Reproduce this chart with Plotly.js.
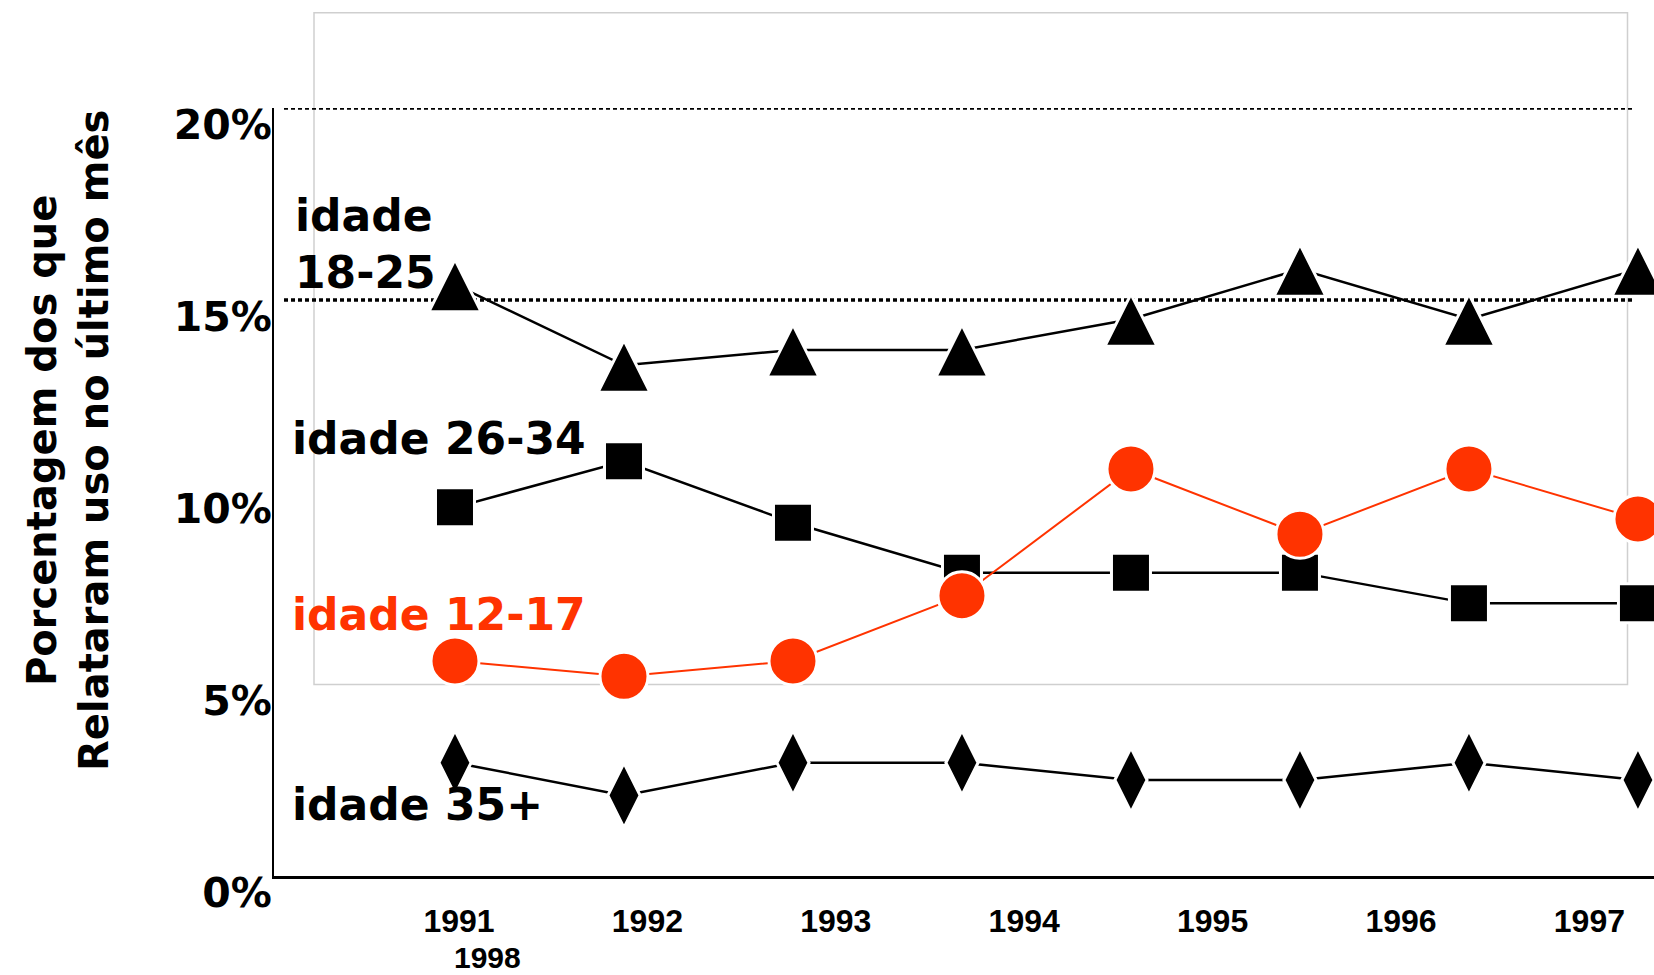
<!DOCTYPE html>
<html><head><meta charset="utf-8">
<script src="https://cdn.plot.ly/plotly-3.0.1.min.js"></script>
<style>html,body{margin:0;padding:0;background:#fff}#chart{width:1654px;height:975px}</style>
</head><body><div id="chart"></div>
<script>
// ---- data ----
const years = [1991, 1992, 1993, 1994, 1995, 1996, 1997, 1998];
const age18_25 = [15.4, 13.3, 13.7, 13.7, 14.5, 15.8, 14.5, 15.8];
const age26_34 = [9.6, 10.8, 9.2, 7.9, 7.9, 7.9, 7.1, 7.1];
const age12_17 = [5.6, 5.2, 5.6, 7.3, 10.6, 8.9, 10.6, 9.3];
const age35plus = [2.95, 2.1, 2.95, 2.95, 2.5, 2.5, 2.95, 2.5];
const seriesLabels = ['idade<br>18-25', 'idade 26-34', 'idade 12-17', 'idade 35+'];
const xTickLabels = ['1991', '1992', '1993', '1994', '1995', '1996', '1997'];
const extraXLabel = '1998';
const yTickVals = [0, 5, 10, 15, 20];
const yTickText = ['0%', '5%', '10%', '15%', '20%'];
const refLines = [15, 20];
const yTitle = 'Porcentagem dos que<br>Relataram uso no último mês';

// ---- style ----
const RED = '#ff3300';
const BIG = {family: 'DejaVu Sans', size: 44, color: '#000', weight: 'bold'};
const plotH = 768, pxPerUnit = plotH / 20, triLift = 25;

function lineTrace(y, color, w) {
  return {x: years, y: y, mode: 'lines', line: {color: color, width: w}, hoverinfo: 'skip', cliponaxis: false};
}
function markerTrace(y, sym, size, color, yaxis) {
  return {x: years, y: y, mode: 'markers', yaxis: yaxis || 'y', cliponaxis: false, hoverinfo: 'skip',
    marker: {symbol: sym, size: size, color: color, line: {color: '#fff', width: 3}}};
}

const traces = [
  lineTrace(age18_25, '#000', 2.5),
  lineTrace(age26_34, '#000', 2.5),
  lineTrace(age35plus, '#000', 2.5),
  lineTrace(age12_17, RED, 2),
  markerTrace(age18_25, 'arrow-up', 52, '#000', 'y2'),
  markerTrace(age26_34, 'square', 39, '#000'),
  markerTrace(age35plus, 'diamond-tall', 46, '#000'),
  markerTrace(age12_17, 'circle', 48, RED),
  {x: [], y: [], xaxis: 'x2', mode: 'markers', hoverinfo: 'skip'}
];

const L = 274, W = 1380;
const px2paperX = p => (p - L) / W;
const px2paperY = p => (876 - p) / plotH;

const layout = {
  width: 1654, height: 975,
  margin: {l: L, r: 0, t: 108, b: 99},
  paper_bgcolor: '#fff', plot_bgcolor: 'rgba(0,0,0,0)',
  showlegend: false,
  font: {family: 'DejaVu Sans', color: '#000'},
  xaxis: {range: [1989.929, 1998.095], showgrid: false, zeroline: false, showticklabels: false,
    showline: true, linecolor: '#000', linewidth: 2.5, ticks: '', fixedrange: true},
  xaxis2: {overlaying: 'x', anchor: 'y', side: 'bottom', range: [-0.982, 6.343],
    tickvals: xTickLabels.map((_, i) => i), ticktext: xTickLabels,
    showgrid: false, zeroline: false, showline: false, ticks: 'outside', ticklen: 17, tickcolor: 'rgba(0,0,0,0)',
    tickfont: {family: 'Liberation Sans', size: 32, color: '#000', weight: 'bold'}},
  yaxis: {range: [0, 20], tickvals: yTickVals, ticktext: yTickText, showgrid: false, zeroline: false,
    showline: true, linecolor: '#000', linewidth: 2, ticks: '', ticklabelshift: 17, ticklabelstandoff: -8,
    tickfont: {family: 'DejaVu Sans', size: 41, color: '#000', weight: 'bold'}},
  yaxis2: {overlaying: 'y', range: [-triLift / pxPerUnit, 20 - triLift / pxPerUnit], visible: false},
  shapes: [
    {type: 'rect', xref: 'paper', yref: 'paper', x0: px2paperX(314), x1: px2paperX(1627.5),
      y0: px2paperY(684.5), y1: px2paperY(12.7), line: {color: '#cfcfcf', width: 1.5}, layer: 'below'}
  ].concat(refLines.map(v => ({type: 'line', xref: 'paper', yref: 'y', x0: px2paperX(284), x1: px2paperX(1632),
      y0: v, y1: v, line: {color: '#000', width: 3.5, dash: '4px,3px'}, layer: 'below'}))),
  annotations: [
    {text: yTitle, xref: 'paper', yref: 'paper', x: px2paperX(68), y: px2paperY(441), textangle: -90,
      xanchor: 'center', yanchor: 'middle', showarrow: false, align: 'center',
      font: {family: 'DejaVu Sans', size: 40, color: '#000', weight: 'bold'}},
    {text: seriesLabels[0], xref: 'paper', yref: 'paper', x: px2paperX(293), y: px2paperY(244),
      xanchor: 'left', yanchor: 'middle', align: 'left', showarrow: false, font: BIG},
    {text: seriesLabels[1], xref: 'paper', yref: 'paper', x: px2paperX(290), y: px2paperY(438),
      xanchor: 'left', yanchor: 'middle', align: 'left', showarrow: false, font: BIG},
    {text: seriesLabels[2], xref: 'paper', yref: 'paper', x: px2paperX(290), y: px2paperY(614),
      xanchor: 'left', yanchor: 'middle', align: 'left', showarrow: false, font: Object.assign({}, BIG, {color: RED})},
    {text: seriesLabels[3], xref: 'paper', yref: 'paper', x: px2paperX(290), y: px2paperY(804),
      xanchor: 'left', yanchor: 'middle', align: 'left', showarrow: false, font: BIG},
    {text: extraXLabel, xref: 'x2', yref: 'paper', x: 0, xshift: 28, y: px2paperY(957),
      xanchor: 'center', yanchor: 'middle', showarrow: false,
      font: {family: 'Liberation Sans', size: 30, color: '#000', weight: 'bold'}}
  ]
};

Plotly.newPlot('chart', traces, layout, {staticPlot: true, displayModeBar: false});
</script>
</body></html>
